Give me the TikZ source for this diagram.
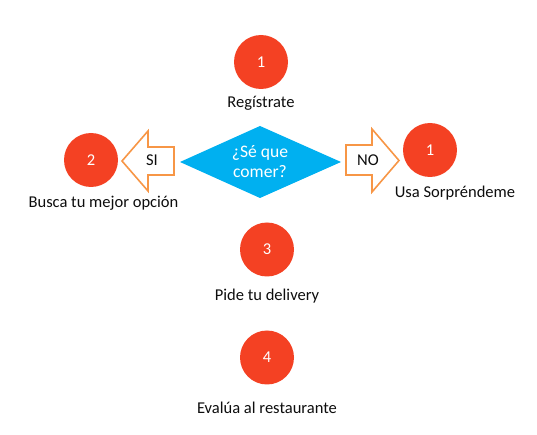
\documentclass[tikz,border=0pt]{standalone}
\usepackage{fontspec}
\setmainfont{Carlito}
\definecolor{cred}{HTML}{F44123}
\definecolor{cblue}{HTML}{00B0F0}
\definecolor{corange}{HTML}{F79646}
\definecolor{ctext}{HTML}{0D0D0D}
\begin{document}
\begin{tikzpicture}[x=0.75pt,y=-0.75pt,
  num/.style={circle,fill=cred,minimum size=40.5pt,inner sep=0,text=white,font=\fontsize{12.4}{14}\selectfont},
  lbl/.style={text=ctext,font=\fontsize{12.4}{14}\selectfont,inner sep=0},
  arrowbox/.style={draw=corange,fill=white,line width=1.2pt,line join=miter},
  atext/.style={text=ctext,font=\fontsize{12.4}{14}\selectfont,inner sep=0}]
\useasboundingbox (0,0) rectangle (537,435);
% top
\node[num] (c1) at (261,62) {1};
\node[lbl] (l1) at (261,103) {Regístrate};
% diamond
\fill[cblue] (180,162) -- (260,126) -- (341,162) -- (260,198) -- cycle;
\node[text=white,align=center,font=\fontsize{13.2}{15}\selectfont,inner sep=0] (q) at (260,162) {¿Sé que\\comer?};
% left arrow
\draw[arrowbox] (174,147) -- (148,147) -- (148,131) -- (122,161) -- (148,191) -- (148,175) -- (174,175) -- cycle;
\node[atext] (si) at (152,160) {SI};
% right arrow
\draw[arrowbox] (346,145) -- (372,145) -- (372,129) -- (399,160.5) -- (372,192) -- (372,175) -- (346,175) -- cycle;
\node[atext] (no) at (368,160) {NO};
% left circle
\node[num] (c2) at (91,160) {2};
\node[lbl] (l2) at (103.5,203) {Busca tu mejor opción};
% right circle
\node[num] (c1b) at (430,150) {1};
\node[lbl] (l1b) at (455,193) {Usa Sorpréndeme};
% step 3
\node[num] (c3) at (267,249.5) {3};
\node[lbl] (l3) at (267,296) {Pide tu delivery};
% step 4
\node[num] (c4) at (267,357.5) {4};
\node[lbl] (l4) at (267,408) {Evalúa al restaurante};
\end{tikzpicture}
\end{document}
